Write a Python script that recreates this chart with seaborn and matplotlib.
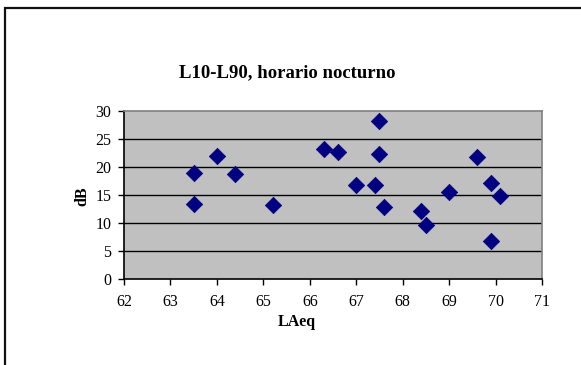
import matplotlib
matplotlib.use("Agg")
import matplotlib.pyplot as plt
from matplotlib.patches import Rectangle
import seaborn as sns
import pandas as pd

# Night-time L10-L90 spread against LAeq
laeq = [63.5, 63.5, 64.0, 64.4, 65.2, 66.3, 66.6, 67.0, 67.4, 67.5,
        67.5, 67.6, 68.4, 68.5, 69.0, 69.6, 69.9, 69.9, 70.1]
l10_l90 = [19.0, 13.4, 22.0, 18.8, 13.3, 23.2, 22.7, 16.7, 16.7, 28.2,
           22.3, 12.9, 12.2, 9.6, 15.6, 21.7, 17.2, 6.7, 14.8]
x_ticks = [62, 63, 64, 65, 66, 67, 68, 69, 70, 71]
y_ticks = [0, 5, 10, 15, 20, 25, 30]

title = "L10-L90, horario nocturno"
x_label = "LAeq"
y_label = "dB"

sns.set_theme(style="white")
plt.rcParams["font.family"] = ["Liberation Serif", "DejaVu Serif"]
plt.rcParams["text.color"] = "black"

W, H = 581, 365
fig = plt.figure(figsize=(W / 100, H / 100), dpi=100)
fig.patch.set_facecolor("white")

# outer chart frame (left and top edges visible)
fig.patches.append(Rectangle((5 / W, -0.1), 1.2, (H - 8) / H + 0.1,
                             transform=fig.transFigure, fill=False,
                             edgecolor="#111111", linewidth=1.6))

left, right, top, bottom = 124, 542, 111, 279
ax = fig.add_axes([left / W, (H - bottom) / H, (right - left) / W, (bottom - top) / H])
ax.set_facecolor("#C0C0C0")

df = pd.DataFrame({"LAeq": laeq, "dB": l10_l90})
sns.scatterplot(data=df, x="LAeq", y="dB", marker="D", color="#000080",
                edgecolor="#000080", s=70, linewidth=0.5, ax=ax, zorder=3,
                clip_on=False)

ax.set_xlim(62, 71)
ax.set_ylim(0, 30)
ax.set_xticks(x_ticks)
ax.set_yticks(y_ticks)
ax.set_xticklabels([str(v) for v in x_ticks], fontsize=11.5)
ax.set_yticklabels([str(v) for v in y_ticks], fontsize=11.5)

for v in y_ticks[1:-1]:
    ax.axhline(v, color="black", linewidth=1.0, zorder=1)

for s in ["top", "right"]:
    ax.spines[s].set_color("#808080")
    ax.spines[s].set_linewidth(1.2)
for s in ["left", "bottom"]:
    ax.spines[s].set_color("black")
    ax.spines[s].set_linewidth(1.2)

ax.tick_params(axis="both", which="both", direction="out", length=4,
               width=1.0, color="black", labelcolor="black")
ax.tick_params(axis="x", pad=6.5)
ax.tick_params(axis="y", pad=5)
ax.tick_params(left=True, bottom=True)
ax.set_xlabel("")
ax.set_ylabel("")

fig.text(287 / W, 1 - 73 / H, title, ha="center", va="center",
         fontsize=13.5, fontweight="bold", color="black")
fig.text(297 / W, 1 - 322 / H, x_label, ha="center", va="center",
         fontsize=11.5, fontweight="bold", color="black")
fig.text(82 / W, 1 - 196 / H, y_label, ha="center", va="center",
         fontsize=11.5, fontweight="bold", rotation=90, color="black")

fig.savefig("out.png", dpi=100)
